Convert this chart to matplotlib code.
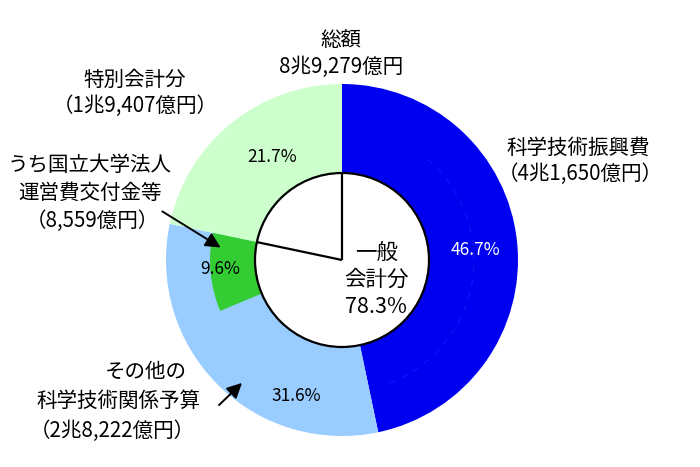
import matplotlib
matplotlib.use("Agg")
import matplotlib.pyplot as plt
from matplotlib.patches import Circle, Arc
import numpy as np

plt.rcParams['font.family'] = ['Noto Sans CJK JP', 'DejaVu Sans']

# Budget breakdown (shares of the total, %)
categories = ["科学技術振興費", "その他の科学技術関係予算", "特別会計分"]
shares = [46.7, 31.6, 21.7]
colors = ["#0000F0", "#99CCFF", "#CCFFCC"]
general_share = 78.3          # 一般会計分
univ_share = 9.6              # うち国立大学法人運営費交付金等
pct_labels = ["46.7%", "31.6%", "21.7%"]

W, H = 700, 467
fig = plt.figure(figsize=(7.0, 4.67), dpi=100)
ax = fig.add_axes([0, 0, 1, 1])
ax.set_xlim(0, W)
ax.set_ylim(0, H)
ax.set_aspect('equal')
ax.axis('off')

def py(y):
    return H - y

cx, cy = 342, py(260)
r_out, r_in, r_mid = 176, 87, 132

# outer ring
ax.pie(shares, colors=colors, startangle=90, counterclock=False,
       radius=r_out, center=(cx, cy), frame=True,
       wedgeprops=dict(width=r_out - r_in, linewidth=0))

# faint inner outline inside the blue segment
ax.add_patch(Arc((cx, cy), 2 * r_mid, 2 * r_mid, theta1=-69, theta2=53,
                 color="#3a3af4", lw=0.6, ls=(0, (8, 8)), alpha=0.45))

# university grant wedge, ending at the general-account boundary
ax.pie([general_share - univ_share, univ_share, 100 - general_share],
       colors=["none", "#33CC33", "none"], startangle=90, counterclock=False,
       radius=r_mid, center=(cx, cy), frame=True,
       wedgeprops=dict(width=r_mid - r_in, linewidth=0))

ax.set_xlim(0, W)
ax.set_ylim(0, H)
ax.axis('off')

# centre circle
ax.add_patch(Circle((cx, cy), r_in, facecolor="white", edgecolor="black", lw=1.6, zorder=3))
ang = np.deg2rad(90 - general_share * 3.6)
ax.plot([cx, cx + r_in * np.cos(ang)], [cy, cy + r_in * np.sin(ang)],
        color="black", lw=1.6, zorder=4, solid_capstyle='butt')
ax.plot([cx, cx], [cy, cy + r_in], color="black", lw=1.6, zorder=4, solid_capstyle='butt')

fs = 14.8
pfs = 12.5

def t(x, y, s, size=fs, color="black"):
    ax.text(x, py(y), s, ha="center", va="center", fontsize=size, color=color, zorder=5)

t(341, 40, "総額")
t(341, 67, "8兆9,279億円")
t(135, 80, "特別会計分")
t(135, 106, "（1兆9,407億円）")
t(578, 148, "科学技術振興費")
t(580, 174, "（4兆1,650億円）")
t(90, 165, "うち国立大学法人")
t(90, 193, "運営費交付金等")
t(92, 221, "（8,559億円）")
t(146, 372, "その他の")
t(118, 401, "科学技術関係予算")
t(112, 431, "（2兆8,222億円）")

t(272, 157, pct_labels[2], pfs)
t(475, 250, pct_labels[0], pfs, "white")
t(220, 269, f"{univ_share}%", pfs)
t(296, 396, pct_labels[1], pfs)
t(377, 253, "一般", 15.5)
t(376, 280, "会計分", 15.5)
t(376, 307, f"{general_share}%", 15.5)

arrow = dict(arrowstyle="-|>,head_length=0.9,head_width=0.45", color="black", lw=1.4)
ax.annotate("", xy=(223, py(249)), xytext=(160, py(210)), arrowprops=arrow, zorder=6)
ax.annotate("", xy=(244, py(381)), xytext=(217, py(407)), arrowprops=arrow, zorder=6)

fig.savefig("out.png", dpi=100)
